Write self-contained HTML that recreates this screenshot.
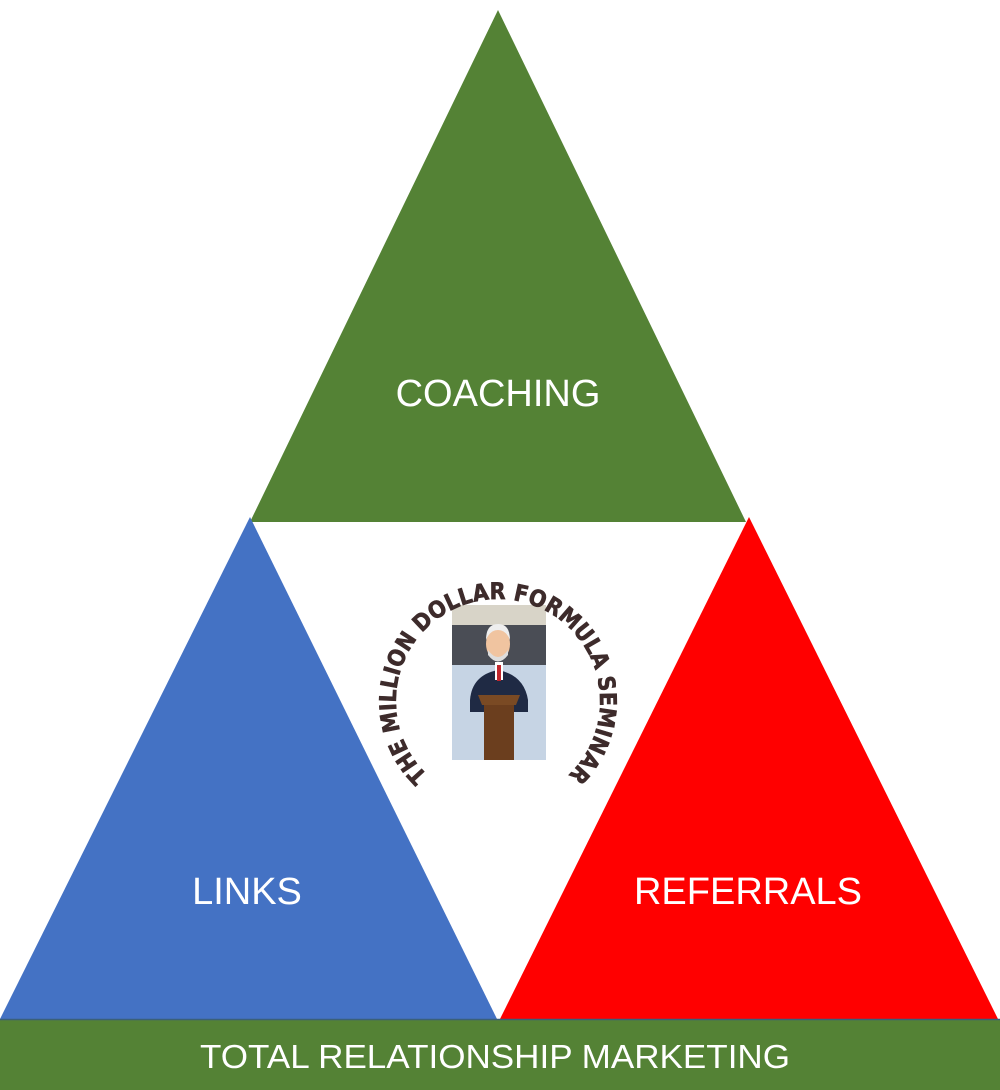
<!DOCTYPE html>
<html><head><meta charset="utf-8"><style>
html,body{margin:0;padding:0;background:#fff;}
svg{display:block}
</style></head><body>
<svg width="1000" height="1090" viewBox="0 0 1000 1090" xmlns="http://www.w3.org/2000/svg">
<rect width="1000" height="1090" fill="#fff"/>
<polygon points="498,10 746,522 250,522" fill="#548235"/>
<polygon points="250,517 497,1019 0,1019" fill="#4472c4"/>
<polygon points="749,517 998,1019 500,1019" fill="#ff0000"/>
<rect x="0" y="1019" width="1000" height="71" fill="#548235"/>
<line x1="0" y1="1019.5" x2="1000" y2="1019.5" stroke="#3a5f7a" stroke-width="1.5"/>
<g font-family="Liberation Sans, sans-serif" fill="#fff" text-anchor="middle">
<text x="498" y="406" font-size="38">COACHING</text>
<text x="247" y="904" font-size="38">LINKS</text>
<text x="748" y="904" font-size="38">REFERRALS</text>
<text x="495" y="1068" font-size="33" textLength="590" lengthAdjust="spacingAndGlyphs">TOTAL RELATIONSHIP MARKETING</text>
</g>
<rect x="452" y="605" width="94" height="155" fill="#b8c8d8"/>
<rect x="452" y="605" width="94" height="20" fill="#d8d4c8"/>
<rect x="452" y="625" width="94" height="40" fill="#4a4d55"/>
<rect x="452" y="665" width="94" height="95" fill="#c6d4e4"/>
<path d="M470 700 Q472 675 498 670 Q524 675 528 700 L528 712 L470 712 Z" fill="#1f2a44"/>
<rect x="495" y="662" width="8" height="18" fill="#fff"/>
<rect x="497" y="665" width="4" height="16" fill="#c0272d"/>
<ellipse cx="498" cy="644" rx="12" ry="16" fill="#f0c4a0"/>
<path d="M486 640 Q486 624 498 624 Q510 624 510 640 Q506 630 498 630 Q490 630 486 640Z" fill="#eee"/>
<path d="M488 650 Q498 664 508 650 L508 655 Q498 668 488 655Z" fill="#ddd"/>
<polygon points="478,695 520,695 516,705 482,705" fill="#7a4a24"/>
<rect x="484" y="705" width="30" height="55" fill="#6b3e1e"/>
<defs><path id="arc" d="M440 785 A102 102 0 1 1 556 785"/></defs>
<text font-family="DejaVu Sans Condensed, DejaVu Sans, sans-serif" font-weight="bold" font-size="23" fill="#3d2b2b" stroke="#3d2b2b" stroke-width="0.6">
<textPath href="#arc" startOffset="50%" text-anchor="middle">THE MILLION DOLLAR FORMULA SEMINAR</textPath></text>
</svg>
</body></html>
